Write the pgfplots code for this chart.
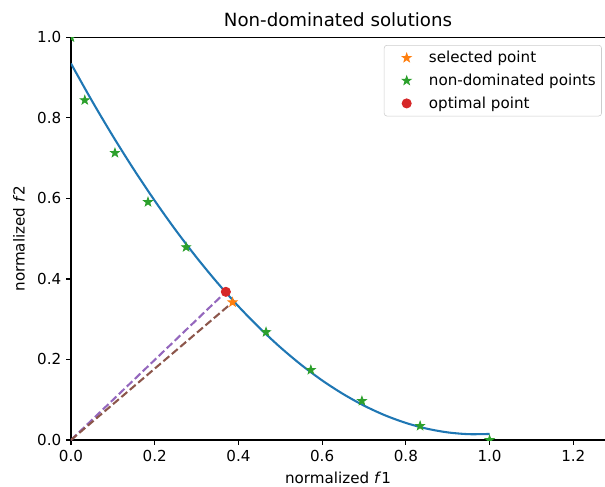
\documentclass[border=0pt]{standalone}
\usepackage{fontspec}
\setmainfont{DejaVu Sans}
\usepackage{pgfplots}
\pgfplotsset{compat=1.18}
\definecolor{C0}{HTML}{1F77B4}
\definecolor{C1}{HTML}{FF7F0E}
\definecolor{C2}{HTML}{2CA02C}
\definecolor{C3}{HTML}{D62728}
\definecolor{C4}{HTML}{9467BD}
\definecolor{C5}{HTML}{8C564B}
\newcommand{\LabFont}{\fontsize{10.9}{13}\selectfont}
% filled five-pointed star, like matplotlib's '*'
\pgfdeclareplotmark{fstar}{%
  \pgfpathmoveto{\pgfpointpolar{90}{\pgfplotmarksize}}%
  \pgfpathlineto{\pgfpointpolar{126}{0.4\pgfplotmarksize}}%
  \pgfpathlineto{\pgfpointpolar{162}{\pgfplotmarksize}}%
  \pgfpathlineto{\pgfpointpolar{198}{0.4\pgfplotmarksize}}%
  \pgfpathlineto{\pgfpointpolar{234}{\pgfplotmarksize}}%
  \pgfpathlineto{\pgfpointpolar{270}{0.4\pgfplotmarksize}}%
  \pgfpathlineto{\pgfpointpolar{306}{\pgfplotmarksize}}%
  \pgfpathlineto{\pgfpointpolar{342}{0.4\pgfplotmarksize}}%
  \pgfpathlineto{\pgfpointpolar{18}{\pgfplotmarksize}}%
  \pgfpathlineto{\pgfpointpolar{54}{0.4\pgfplotmarksize}}%
  \pgfpathclose
  \pgfusepathqfillstroke}
\pgfplotsset{lgmark/.style={legend image code/.code={%
    \path[draw=none, fill=none] (0pt,-4pt) rectangle (28pt,4pt);
    \draw plot coordinates {(14pt,0pt)};}}}

\begin{document}
\begin{tikzpicture}
\path[use as bounding box] (-51.1pt,-33.8pt) rectangle (384.5pt,316.8pt);
\begin{axis}[
    at={(0,0)}, anchor=south west,
    scale only axis,
    width=384.5pt, height=289.9pt,
    xmin=0, xmax=1.2757,
    ymin=0, ymax=1,
    xtick={0,0.2,...,1.2},
    ytick={0,0.2,...,1.0},
    axis x line=box, axis y line=left,
    axis line style={-, line width=0.8pt},
    xtick pos=left, ytick pos=left,
    tick align=outside,
    major tick length=3.5pt,
    every tick/.style={black, line width=0.8pt},
    /pgf/number format/.cd, fixed, fixed zerofill, precision=1, assume math mode=true,
    /pgfplots/.cd,
    tick label style={font=\LabFont},
    label style={font=\LabFont},
    title={Non-dominated solutions},
    title style={font=\fontsize{13.1}{15}\selectfont, yshift=-2pt},
    xlabel={normalized \textit{f}1},
    ylabel={normalized \textit{f}2},
    xlabel style={yshift=-1pt},
    ylabel style={yshift=2pt},
    clip mode=individual,
    clip marker paths=true,
    legend cell align=left,
    legend style={
        at={(0.994,0.981)}, anchor=north east,
        font=\LabFont,
        draw=black!20, rounded corners=2pt,
        row sep=2.6pt, inner sep=2.2pt,
    },
]

% fitted front
\addplot[C0, line width=1.5pt, smooth, forget plot] coordinates {
    (0.00,0.935)(0.05,0.8425)(0.10,0.7549)(0.15,0.6722)(0.20,0.5944)
    (0.25,0.5214)(0.30,0.4534)(0.35,0.3903)(0.40,0.3320)(0.45,0.2787)
    (0.50,0.2303)(0.55,0.1867)(0.60,0.1480)(0.65,0.1143)(0.70,0.0854)
    (0.75,0.0614)(0.80,0.0424)(0.85,0.0282)(0.90,0.0189)(0.95,0.0145)
    (1.00,0.0150)};

% distance lines from origin
\addplot[C4, line width=1.5pt, dash pattern=on 5.55pt off 2.4pt, forget plot]
    coordinates {(0,0)(0.370,0.368)};
\addplot[C5, line width=1.5pt, dash pattern=on 5.55pt off 2.4pt, forget plot]
    coordinates {(0,0)(0.386,0.342)};

\addplot[only marks, lgmark, mark=fstar, mark size=3.3pt, line width=0.6pt,
    mark options={draw=C1, fill=C1}, C1]
    coordinates {(0.386,0.342)};
\addlegendentry{selected point}

\addplot[only marks, lgmark, mark=fstar, mark size=3.3pt, line width=0.6pt,
    mark options={draw=C2, fill=C2}, C2]
    coordinates {(0.000,1.000)(0.033,0.844)(0.105,0.713)(0.184,0.591)(0.275,0.479)
                 (0.466,0.268)(0.573,0.174)(0.695,0.097)(0.834,0.035)(1.000,0.000)};
\addlegendentry{non-dominated points}

\addplot[only marks, lgmark, mark=*, mark size=3.3pt, line width=0.6pt,
    mark options={draw=C3, fill=C3}, C3]
    coordinates {(0.370,0.368)};
\addlegendentry{optimal point}

\end{axis}
\end{tikzpicture}
\end{document}
